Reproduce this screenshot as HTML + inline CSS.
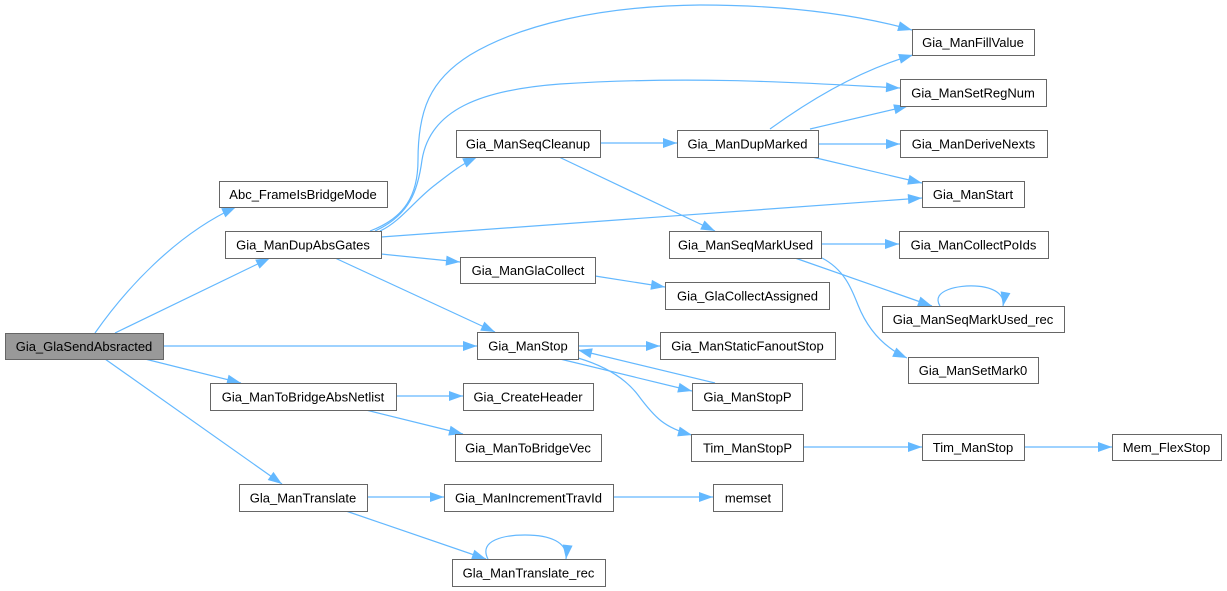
<!DOCTYPE html>
<html><head><meta charset="utf-8"><style>
html,body{margin:0;padding:0;background:#fff;}
svg{display:block;}
text{font-family:"Liberation Sans",Arial,sans-serif;font-size:13px;fill:#000;text-anchor:middle;}
.n{fill:#fff;stroke:#666;stroke-width:1;}
.e{fill:none;stroke:#63b8ff;stroke-width:1.2;}
</style></head><body>
<svg width="1227" height="591" viewBox="0 0 1227 591" xmlns="http://www.w3.org/2000/svg">
<defs>
<marker id="a" markerUnits="userSpaceOnUse" markerWidth="16" markerHeight="12" refX="14" refY="5" orient="auto" overflow="visible">
<path d="M0,0 L14,5 L0,10 z" fill="#63b8ff"/>
</marker>
</defs>
<g>
<path class="e" marker-end="url(#a)" d="M95,333 C125,290 175,235 236,207"/>
<path class="e" marker-end="url(#a)" d="M115,333 L270,258"/>
<path class="e" marker-end="url(#a)" d="M163,346 L477,346"/>
<path class="e" marker-end="url(#a)" d="M145,359 L241,383"/>
<path class="e" marker-end="url(#a)" d="M105,359 L282,484"/>
<path class="e" marker-end="url(#a)" d="M370,231 C405,218 418,195 418,160 C418,110 430,80 470,55 C520,25 600,6 700,5 C800,5 870,18 912,30"/>
<path class="e" marker-end="url(#a)" d="M375,231 C410,215 418,190 422,160 C430,110 480,90 560,84 C700,75 820,84 900,88"/>
<path class="e" marker-end="url(#a)" d="M380,231 C400,222 415,200 435,185 C448,175 460,165 477,157"/>
<path class="e" marker-end="url(#a)" d="M381,237 L922,198"/>
<path class="e" marker-end="url(#a)" d="M381,254 L460,262"/>
<path class="e" marker-end="url(#a)" d="M335,258 L495,332"/>
<path class="e" marker-end="url(#a)" d="M600,143 L677,143"/>
<path class="e" marker-end="url(#a)" d="M559,157 L715,231"/>
<path class="e" marker-end="url(#a)" d="M770,129 C810,100 860,70 913,55"/>
<path class="e" marker-end="url(#a)" d="M810,129 L908,106"/>
<path class="e" marker-end="url(#a)" d="M818,144 L900,144"/>
<path class="e" marker-end="url(#a)" d="M812,157 L922,183"/>
<path class="e" marker-end="url(#a)" d="M821,244 L899,244"/>
<path class="e" marker-end="url(#a)" d="M795,258 L932,306"/>
<path class="e" marker-end="url(#a)" d="M822,258 C845,270 852,290 858,305 C868,330 885,348 907,358"/>
<path class="e" marker-end="url(#a)" d="M940,306 C930,290 960,285 975,286 C995,287 1005,295 1003,306"/>
<path class="e" marker-end="url(#a)" d="M595,276 L665,287"/>
<path class="e" marker-end="url(#a)" d="M578,346 L660,346"/>
<path class="e" marker-end="url(#a)" d="M560,359 L692,391"/>
<path class="e" marker-end="url(#a)" d="M715,383 L578,350"/>
<path class="e" marker-end="url(#a)" d="M578,358 C605,366 625,378 638,395 C655,418 665,428 692,435"/>
<path class="e" marker-end="url(#a)" d="M396,396 L463,396"/>
<path class="e" marker-end="url(#a)" d="M366,410 L463,434"/>
<path class="e" marker-end="url(#a)" d="M803,447 L922,447"/>
<path class="e" marker-end="url(#a)" d="M1024,447 L1112,447"/>
<path class="e" marker-end="url(#a)" d="M367,497 L444,497"/>
<path class="e" marker-end="url(#a)" d="M613,497 L713,497"/>
<path class="e" marker-end="url(#a)" d="M346,511 L486,559"/>
<path class="e" marker-end="url(#a)" d="M488,559 C478,540 505,535 525,535 C550,535 568,542 566,559"/>
</g>

<rect x="5.5" y="333.5" width="158" height="26" fill="#999" stroke="#666"/>
<text x="84" y="351">Gia_GlaSendAbsracted</text>

<rect class="n" x="219.5" y="181.5" width="168" height="26"/><text x="303" y="199">Abc_FrameIsBridgeMode</text>
<rect class="n" x="225.5" y="231.5" width="156" height="27"/><text x="303" y="249.5">Gia_ManDupAbsGates</text>
<rect class="n" x="210.5" y="383.5" width="186" height="27"/><text x="303" y="401.5">Gia_ManToBridgeAbsNetlist</text>
<rect class="n" x="239.5" y="484.5" width="128" height="27"/><text x="303" y="502.5">Gla_ManTranslate</text>

<rect class="n" x="456.5" y="130.5" width="144" height="27"/><text x="528" y="148.5">Gia_ManSeqCleanup</text>
<rect class="n" x="460.5" y="257.5" width="135" height="26"/><text x="528" y="275">Gia_ManGlaCollect</text>
<rect class="n" x="477.5" y="332.5" width="101" height="27"/><text x="528" y="350.5">Gia_ManStop</text>
<rect class="n" x="463.5" y="383.5" width="130" height="27"/><text x="528" y="401.5">Gia_CreateHeader</text>
<rect class="n" x="455.5" y="434.5" width="146" height="27"/><text x="528" y="452.5">Gia_ManToBridgeVec</text>
<rect class="n" x="444.5" y="484.5" width="169" height="27"/><text x="528.5" y="502.5">Gia_ManIncrementTravId</text>
<rect class="n" x="452.5" y="559.5" width="153" height="27"/><text x="528.5" y="577.5">Gla_ManTranslate_rec</text>

<rect class="n" x="677.5" y="130.5" width="141" height="27"/><text x="747.5" y="148.5">Gia_ManDupMarked</text>
<rect class="n" x="669.5" y="231.5" width="152" height="27"/><text x="745.5" y="249.5">Gia_ManSeqMarkUsed</text>
<rect class="n" x="665.5" y="282.5" width="164" height="27"/><text x="747.5" y="300.5">Gia_GlaCollectAssigned</text>
<rect class="n" x="660.5" y="332.5" width="175" height="27"/><text x="747.5" y="350.5">Gia_ManStaticFanoutStop</text>
<rect class="n" x="692.5" y="383.5" width="110" height="27"/><text x="747.5" y="401.5">Gia_ManStopP</text>
<rect class="n" x="691.5" y="434.5" width="112" height="27"/><text x="747.5" y="452.5">Tim_ManStopP</text>
<rect class="n" x="713.5" y="484.5" width="69" height="27"/><text x="748" y="502.5">memset</text>

<rect class="n" x="912.5" y="29.5" width="122" height="26"/><text x="973" y="47">Gia_ManFillValue</text>
<rect class="n" x="900.5" y="79.5" width="146" height="27"/><text x="973" y="97.5">Gia_ManSetRegNum</text>
<rect class="n" x="900.5" y="130.5" width="147" height="27"/><text x="973.5" y="148.5">Gia_ManDeriveNexts</text>
<rect class="n" x="922.5" y="181.5" width="102" height="26"/><text x="973" y="199">Gia_ManStart</text>
<rect class="n" x="899.5" y="231.5" width="149" height="27"/><text x="973.5" y="249.5">Gia_ManCollectPoIds</text>
<rect class="n" x="882.5" y="306.5" width="182" height="26"/><text x="973" y="324">Gia_ManSeqMarkUsed_rec</text>
<rect class="n" x="908.5" y="357.5" width="130" height="26"/><text x="973" y="375">Gia_ManSetMark0</text>
<rect class="n" x="922.5" y="434.5" width="102" height="26"/><text x="973" y="452">Tim_ManStop</text>
<rect class="n" x="1112.5" y="434.5" width="109" height="26"/><text x="1166.5" y="452">Mem_FlexStop</text>
</svg>
</body></html>
